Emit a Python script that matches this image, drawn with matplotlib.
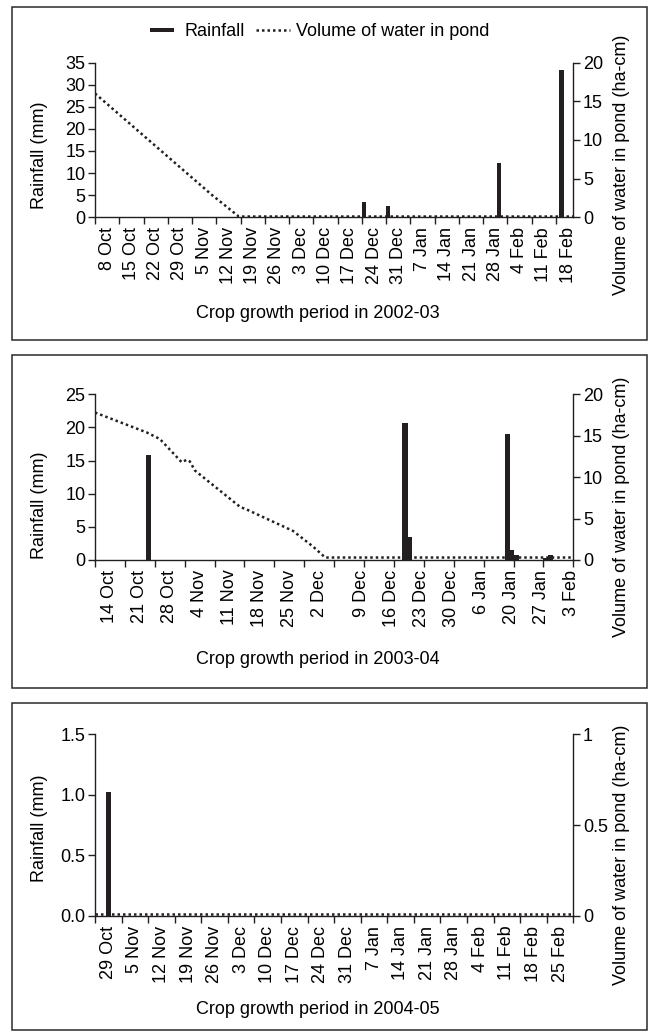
import numpy as np
import matplotlib
matplotlib.use('Agg')
import matplotlib.pyplot as plt
from matplotlib.patches import Rectangle
from matplotlib.lines import Line2D
from matplotlib.ticker import NullFormatter

plt.rcParams['font.family'] = ['Liberation Sans', 'DejaVu Sans']
plt.rcParams['font.size'] = 13

INK = '#231f20'

# =====================================
# 2002-03 season, days counted from 8 Oct
labels_0203 = ['8 Oct', '15 Oct', '22 Oct', '29 Oct', '5 Nov', '12 Nov', '19 Nov', '26 Nov',
               '3 Dec', '10 Dec', '17 Dec', '24 Dec', '31 Dec', '7 Jan', '14 Jan', '21 Jan',
               '28 Jan', '4 Feb', '11 Feb', '18 Feb']
rain_day_0203 = [77, 84, 116, 134]
rain_mm_0203 = [3.4, 2.6, 12.3, 33.3]
pond_day_0203 = [0, 33.7, 41.5, 138]
pond_vol_0203 = [16.0, 2.9, 0.1, 0.1]

# 2003-04 season, days counted from 14 Oct (13 Jan is missing on the original axis)
labels_0304 = ['14 Oct', '21 Oct', '28 Oct', '4 Nov', '11 Nov', '18 Nov', '25 Nov', '2 Dec',
               '9 Dec', '16 Dec', '23 Dec', '30 Dec', '6 Jan', '20 Jan', '27 Jan', '3 Feb']
rain_day_0304 = [12, 72, 73, 96, 97, 98, 105, 106]
rain_mm_0304 = [15.8, 20.7, 3.5, 19.0, 1.5, 0.75, 0.35, 0.8]
pond_day_0304 = [0, 12.1, 15.2, 20.3, 21.5, 22.2, 23.4, 34.0, 35.5, 46.4, 51.1, 53.9, 112]
pond_vol_0304 = [17.8, 15.4, 14.6, 11.8, 12.1, 11.9, 10.8, 6.4, 6.1, 3.5, 1.6, 0.3, 0.3]

# 2004-05 season, days counted from 29 Oct
labels_0405 = ['29 Oct', '5 Nov', '12 Nov', '19 Nov', '26 Nov', '3 Dec', '10 Dec', '17 Dec',
               '24 Dec', '31 Dec', '7 Jan', '14 Jan', '21 Jan', '28 Jan', '4 Feb', '11 Feb',
               '18 Feb', '25 Feb']
rain_day_0405 = [3]
rain_mm_0405 = [1.02]
pond_day_0405 = [0, 126]
pond_vol_0405 = [0.01, 0.01]

fig = plt.figure(figsize=(6.49, 10.32), dpi=100)
W, H = 649.0, 1032.0
DOTS = (0, (1, 1.2))


def fx(px):
    return px / W


def fy(px):
    return 1 - px / H


def draw_panel(top, bottom, box_top, box_bottom, n_days, labels, label_pos,
               rain_day, rain_mm, pond_day, pond_vol,
               rain_ticks, rain_ticklabels, pond_ticks, pond_ticklabels,
               xlabel, xlabel_y, left_lab_y, right_lab_y):
    # frame round the whole panel
    fig.add_artist(Rectangle((fx(12.4), fy(box_bottom)), fx(647) - fx(12.4),
                             fy(box_top) - fy(box_bottom), transform=fig.transFigure,
                             fill=False, edgecolor='#2a2a2a', linewidth=1.1))
    ax = fig.add_axes([fx(95), fy(bottom), fx(573.3) - fx(95), fy(top) - fy(bottom)])
    ax2 = ax.twinx()

    ax.bar(rain_day, rain_mm, width=1.2, align='edge', color=INK, linewidth=0)
    ax2.plot(pond_day, pond_vol, color=INK, linewidth=1.8, linestyle=DOTS)

    ax.set_xlim(0, n_days)
    ax.set_ylim(rain_ticks[0], rain_ticks[-1])
    ax2.set_ylim(pond_ticks[0], pond_ticks[-1])

    # week ticks carry no text, the dates sit between them
    ax.set_xticks(np.arange(0, n_days + 1, 7))
    ax.xaxis.set_major_formatter(NullFormatter())
    ax.set_xticks(label_pos, labels, minor=True, rotation=90)
    ax.tick_params(axis='x', which='minor', length=0, pad=7)
    ax.tick_params(axis='x', which='major', length=5, width=1, color=INK)

    ax.set_yticks(rain_ticks, rain_ticklabels)
    ax2.set_yticks(pond_ticks, pond_ticklabels)
    ax.tick_params(axis='y', length=5, width=1, color=INK, pad=2)
    ax2.tick_params(axis='y', length=5, width=1, color=INK, pad=2)

    for a in (ax, ax2):
        a.spines['top'].set_visible(False)
        for s in a.spines.values():
            s.set_linewidth(1.0)
            s.set_color(INK)
    ax.spines['right'].set_visible(False)
    ax2.spines['left'].set_visible(False)
    ax2.spines['bottom'].set_visible(False)

    fig.text(fx(39), fy(left_lab_y), 'Rainfall (mm)', rotation=90, ha='center', va='center')
    fig.text(fx(621), fy(right_lab_y), 'Volume of water in pond (ha-cm)', rotation=90,
             ha='center', va='center')
    fig.text(fx(318), fy(xlabel_y), xlabel, ha='center', va='center')
    return ax


pos_0203 = np.arange(len(labels_0203)) * 7 + 3.5
pos_0304 = np.r_[np.arange(8) * 7 + 3.5, np.arange(9, 17) * 7 - 0.5]
pos_0405 = np.arange(len(labels_0405)) * 7 + 3.5

draw_panel(62.5, 217.3, 7.3, 340, 138, labels_0203, pos_0203,
           rain_day_0203, rain_mm_0203, pond_day_0203, pond_vol_0203,
           [0, 5, 10, 15, 20, 25, 30, 35], ['0', '5', '10', '15', '20', '25', '30', '35'],
           [0, 5, 10, 15, 20], ['0', '5', '10', '15', '20'],
           'Crop growth period in 2002-03', 313, 155, 165)

draw_panel(394.3, 560, 355, 688.3, 112, labels_0304, pos_0304,
           rain_day_0304, rain_mm_0304, pond_day_0304, pond_vol_0304,
           [0, 5, 10, 15, 20, 25], ['0', '5', '10', '15', '20', '25'],
           [0, 5, 10, 15, 20], ['0', '5', '10', '15', '20'],
           'Crop growth period in 2003-04', 660, 505, 507)

draw_panel(734.3, 916, 703.3, 1030, 126, labels_0405, pos_0405,
           rain_day_0405, rain_mm_0405, pond_day_0405, pond_vol_0405,
           [0, 0.5, 1.0, 1.5], ['0.0', '0.5', '1.0', '1.5'],
           [0, 0.5, 1], ['0', '0.5', '1'],
           'Crop growth period in 2004-05', 1010, 828.5, 855)

# legend sits only in the top panel; rainfall key is a short thick bar
bar_key = [(-1, -0.2), (1, -0.2), (1, 0.2), (-1, 0.2), (-1, -0.2)]
handles = [Line2D([], [], color=INK, linewidth=0, marker=bar_key, markersize=17,
                  markeredgewidth=0),
           Line2D([], [], color=INK, linewidth=1.8, linestyle=DOTS)]
fig.legend(handles, ['Rainfall', 'Volume of water in pond'], loc='center',
           bbox_to_anchor=(fx(317), fy(32)), ncol=2, frameon=False, numpoints=1,
           handlelength=1.9, handletextpad=0.3, columnspacing=0.6)

fig.savefig('out.png', dpi=100)
